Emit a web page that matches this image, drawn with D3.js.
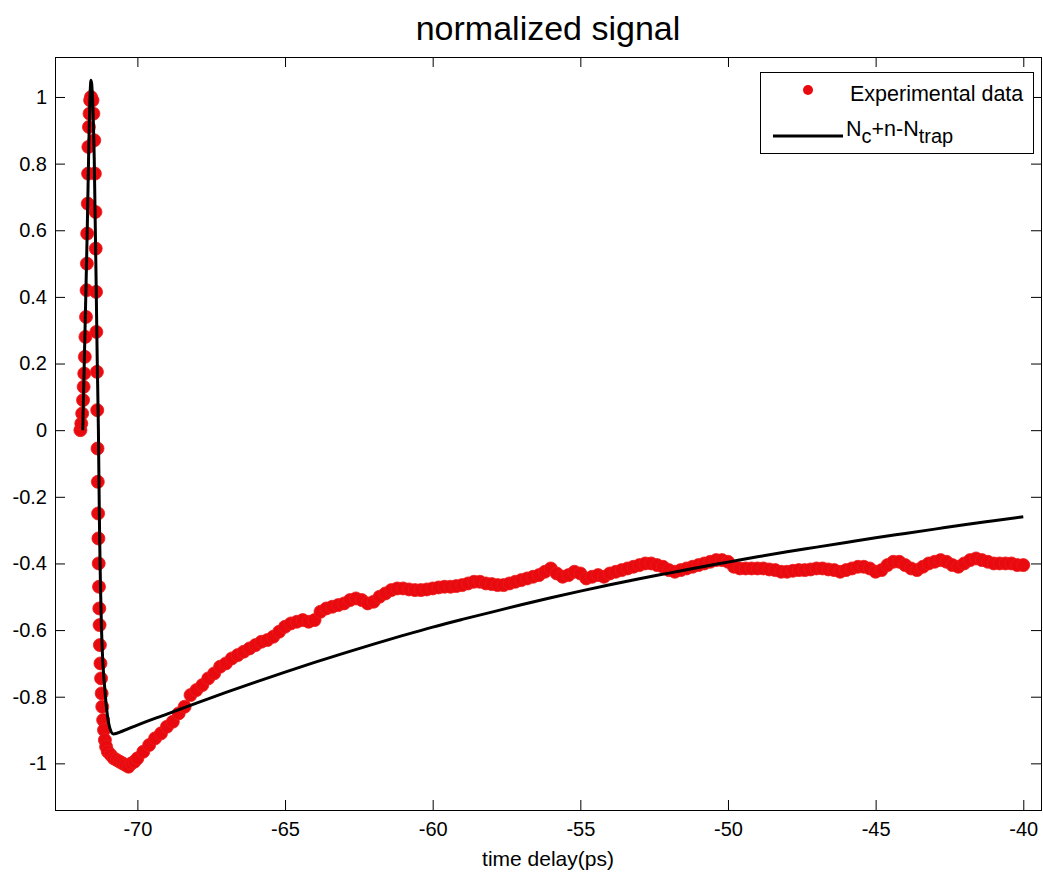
<!DOCTYPE html>
<html>
<head>
<meta charset="utf-8">
<script src="https://d3js.org/d3.v7.min.js"></script>
<style>
body { margin: 0; background: #fff; }
text { font-family: "Liberation Sans", Arial, sans-serif; fill: #000; }
</style>
</head>
<body>
<div id="view"></div>
<script>
var width = 1043, height = 872;

// experimental points (time delay in ps, normalized signal)
var expTime = [
  -71.93, -71.90, -71.87, -71.84, -71.82, -71.80, -71.78, -71.76, -71.74, -71.72,
  -71.71, -71.70, -71.68, -71.67, -71.66, -71.64, -71.62, -71.60, -71.57, -71.52,
  -71.49, -71.46, -71.44, -71.42, -71.41, -71.40, -71.39, -71.37, -71.36, -71.35,
  -71.34, -71.33, -71.32, -71.31, -71.30, -71.29, -71.28, -71.27, -71.25, -71.23,
  -71.21, -71.19, -71.16, -71.13, -71.10, -71.06, -71.00, -70.90, -70.80, -70.70,
  -70.60, -70.50, -70.40, -70.30, -70.20, -70.10, -70.00,
  -69.8, -69.6, -69.4, -69.2, -69.0, -68.8, -68.6, -68.4, -68.2, -68.0,
  -67.8, -67.6, -67.4, -67.2, -67.0, -66.8, -66.6, -66.4, -66.2, -66.0,
  -65.8, -65.6, -65.4, -65.2, -65.0, -64.8, -64.6, -64.4, -64.2, -64.0,
  -63.8, -63.6, -63.4, -63.2, -63.0, -62.8, -62.6, -62.4, -62.2, -62.0,
  -61.8, -61.6, -61.4, -61.2, -61.0, -60.8, -60.6, -60.4, -60.2, -60.0,
  -59.8, -59.6, -59.4, -59.2, -59.0, -58.8, -58.6, -58.4, -58.2, -58.0,
  -57.8, -57.6, -57.4, -57.2, -57.0, -56.8, -56.6, -56.4, -56.2, -56.0,
  -55.8, -55.6, -55.4, -55.2, -55.0, -54.8, -54.6, -54.4, -54.2, -54.0,
  -53.8, -53.6, -53.4, -53.2, -53.0, -52.8, -52.6, -52.4, -52.2, -52.0,
  -51.8, -51.6, -51.4, -51.2, -51.0, -50.8, -50.6, -50.4, -50.2, -50.0,
  -49.8, -49.6, -49.4, -49.2, -49.0, -48.8, -48.6, -48.4, -48.2, -48.0,
  -47.8, -47.6, -47.4, -47.2, -47.0, -46.8, -46.6, -46.4, -46.2, -46.0,
  -45.8, -45.6, -45.4, -45.2, -45.0, -44.8, -44.6, -44.4, -44.2, -44.0,
  -43.8, -43.6, -43.4, -43.2, -43.0, -42.8, -42.6, -42.4, -42.2, -42.0,
  -41.8, -41.6, -41.4, -41.2, -41.0, -40.8, -40.6, -40.4, -40.2, -40.0
];
var expSignal = [
  0.00, 0.02, 0.05, 0.09, 0.13, 0.17, 0.22, 0.28, 0.34, 0.42,
  0.50, 0.59, 0.68, 0.77, 0.85, 0.91, 0.95, 0.99, 1.00, 0.99,
  0.95, 0.87, 0.77, 0.655, 0.545, 0.415, 0.295, 0.175, 0.06, -0.055,
  -0.155, -0.25, -0.325, -0.40, -0.47, -0.535, -0.585, -0.645, -0.70, -0.745,
  -0.79, -0.83, -0.87, -0.90, -0.93, -0.95, -0.965, -0.975, -0.985, -0.99,
  -0.995, -1.00, -1.005, -1.01, -1.00, -0.995, -0.985,
  -0.965, -0.945, -0.925, -0.91, -0.89, -0.875, -0.85, -0.83, -0.795, -0.78,
  -0.765, -0.745, -0.73, -0.71, -0.70, -0.685, -0.675, -0.665, -0.655, -0.645,
  -0.635, -0.63, -0.62, -0.605, -0.59, -0.58, -0.575, -0.57, -0.575, -0.57,
  -0.545, -0.535, -0.53, -0.525, -0.52, -0.51, -0.505, -0.51, -0.52, -0.515,
  -0.50, -0.49, -0.48, -0.475, -0.475, -0.478, -0.48, -0.48, -0.478, -0.475,
  -0.472, -0.47, -0.47, -0.468, -0.465, -0.46, -0.455, -0.455, -0.46, -0.462,
  -0.465, -0.465, -0.46, -0.455, -0.45, -0.445, -0.44, -0.435, -0.425, -0.415,
  -0.43, -0.44, -0.435, -0.425, -0.43, -0.445, -0.44, -0.435, -0.44, -0.43,
  -0.425, -0.42, -0.415, -0.41, -0.405, -0.40, -0.40, -0.405, -0.41, -0.42,
  -0.425, -0.42, -0.415, -0.41, -0.405, -0.40, -0.395, -0.39, -0.39, -0.395,
  -0.41, -0.415, -0.415, -0.415, -0.415, -0.415, -0.418, -0.42, -0.425, -0.425,
  -0.422, -0.42, -0.42, -0.418, -0.415, -0.415, -0.418, -0.42, -0.425, -0.42,
  -0.415, -0.41, -0.41, -0.415, -0.425, -0.42, -0.405, -0.395, -0.395, -0.405,
  -0.415, -0.42, -0.41, -0.40, -0.395, -0.39, -0.395, -0.405, -0.41, -0.40,
  -0.39, -0.385, -0.39, -0.395, -0.40, -0.40, -0.40, -0.40, -0.405, -0.405
];

// fitted curve Nc+n-Ntrap
var fitTime = [
  -71.85, -71.72, -71.57, -71.46, -71.36, -71.32, -71.29, -71.21, -71.09, -70.93,
  -70.81, -70.5, -70.0, -69.0, -68.0, -67.0, -66.0, -65.0, -64.0, -63.0,
  -62.0, -61.0, -60.0, -59.0, -58.0, -57.0, -56.0, -55.0, -54.0, -53.0,
  -52.0, -51.0, -50.0, -49.0, -48.0, -47.0, -46.0, -45.0, -44.0, -43.0,
  -42.0, -41.0, -40.0
];
var fitSignal = [
  0.0, 0.51, 1.05, 0.81, 0.21, 0.0, -0.24, -0.61, -0.79, -0.895,
  -0.912, -0.903, -0.885, -0.852, -0.819, -0.787, -0.756, -0.726, -0.697, -0.669,
  -0.642, -0.616, -0.591, -0.568, -0.546, -0.524, -0.503, -0.483, -0.464, -0.446,
  -0.429, -0.412, -0.396, -0.380, -0.365, -0.351, -0.337, -0.323, -0.310, -0.297,
  -0.284, -0.272, -0.260
];

var xTicks = [-70, -65, -60, -55, -50, -45, -40];
var yTicks = [-1, -0.8, -0.6, -0.4, -0.2, 0, 0.2, 0.4, 0.6, 0.8, 1];

var axL = 55, axR = 1041, axT = 57, axB = 810;

var x = d3.scaleLinear().domain([-72.79, -39.4]).range([axL, axR]);
var y = d3.scaleLinear().domain([-1.14, 1.12]).range([axB, axT]);
var fmt = function(d) { return String(+d.toFixed(1)); };

var svg = d3.select("#view").append("svg")
  .attr("width", width)
  .attr("height", height);

svg.append("rect").attr("width", width).attr("height", height).attr("fill", "#fff");

// data markers
var pts = expTime.map(function(t, i) { return [t, expSignal[i]]; });
svg.append("g").selectAll("circle")
  .data(pts).enter()
  .append("circle")
  .attr("cx", function(d) { return x(d[0]); })
  .attr("cy", function(d) { return y(d[1]); })
  .attr("r", 6.5)
  .attr("fill", "#e80a0e")
  .attr("stroke", "#ee1a1a")
  .attr("stroke-width", 0.8);

// fit curve on top
var fit = fitTime.map(function(t, i) { return [t, fitSignal[i]]; });
svg.append("path")
  .datum(fit)
  .attr("fill", "none")
  .attr("stroke", "#000")
  .attr("stroke-width", 3)
  .attr("d", d3.line()
    .x(function(d) { return x(d[0]); })
    .y(function(d) { return y(d[1]); })
    .curve(d3.curveMonotoneX));

// axes, ticks pointing in (matlab style box)
function styleAxis(g) {
  g.select(".domain").remove();
  g.selectAll("line").attr("stroke", "#000");
  g.selectAll("text").attr("font-size", 20).attr("font-family", "Liberation Sans, Arial, sans-serif");
}
svg.append("g").attr("transform", "translate(0," + axB + ")")
  .call(d3.axisBottom(x).tickValues(xTicks).tickFormat(fmt).tickSize(-10).tickPadding(12))
  .call(styleAxis);
svg.append("g").attr("transform", "translate(0," + axT + ")")
  .call(d3.axisTop(x).tickValues(xTicks).tickFormat("").tickSize(-10))
  .call(styleAxis);
svg.append("g").attr("transform", "translate(" + axL + ",0)")
  .call(d3.axisLeft(y).tickValues(yTicks).tickFormat(fmt).tickSize(-10).tickPadding(8))
  .call(styleAxis);
svg.append("g").attr("transform", "translate(" + axR + ",0)")
  .call(d3.axisRight(y).tickValues(yTicks).tickFormat("").tickSize(-10))
  .call(styleAxis);

svg.append("rect")
  .attr("x", axL + 0.5).attr("y", axT + 0.5)
  .attr("width", axR - axL).attr("height", axB - axT)
  .attr("fill", "none").attr("stroke", "#000").attr("stroke-width", 1);

// title and label
svg.append("text")
  .attr("x", (axL + axR) / 2).attr("y", 40)
  .attr("text-anchor", "middle").attr("font-size", 34)
  .text("normalized signal");
svg.append("text")
  .attr("x", (axL + axR) / 2).attr("y", 866)
  .attr("text-anchor", "middle").attr("font-size", 21)
  .text("time delay(ps)");

// legend
var lg = svg.append("g");
lg.append("rect")
  .attr("x", 760.5).attr("y", 72.5).attr("width", 273).attr("height", 81)
  .attr("fill", "#fff").attr("stroke", "#000");
lg.append("circle").attr("cx", 808).attr("cy", 90).attr("r", 5).attr("fill", "#e80a0e");
lg.append("text").attr("x", 850).attr("y", 101).attr("font-size", 21.5).text("Experimental data");
lg.append("line").attr("x1", 773).attr("x2", 843).attr("y1", 136).attr("y2", 136)
  .attr("stroke", "#000").attr("stroke-width", 3);
var t2 = lg.append("text").attr("x", 846).attr("y", 136).attr("font-size", 21.5);
t2.append("tspan").text("N");
t2.append("tspan").attr("dy", 7).attr("font-size", 20).text("c");
t2.append("tspan").attr("dy", -7).text("+n-N");
t2.append("tspan").attr("dy", 7).attr("font-size", 20).text("trap");
</script>
</body>
</html>
